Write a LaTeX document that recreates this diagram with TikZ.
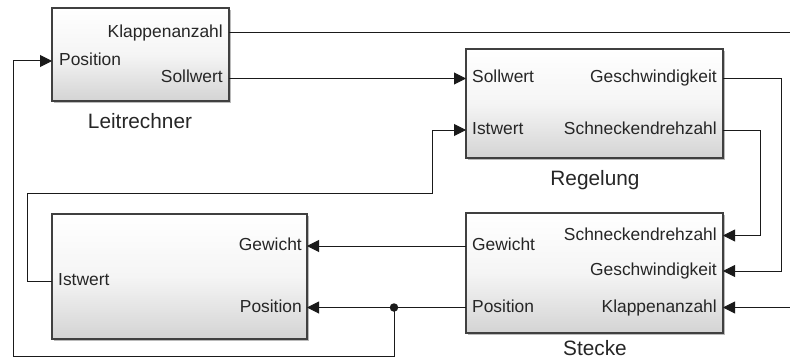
\documentclass[tikz,border=0pt]{standalone}
\usepackage{fontspec}
\setmainfont{Liberation Sans}
\usetikzlibrary{arrows.meta,shadows}
\definecolor{wire}{HTML}{1A1A1A}
\definecolor{frame}{HTML}{404040}
\tikzset{
  block/.style={draw=frame, line width=1.4pt, top color=white, bottom color=black!17,
    middle color=black!4,
    inner sep=0pt, outer sep=0pt, anchor=center,
    drop shadow={shadow xshift=2pt, shadow yshift=-2pt, fill=black!45, opacity=0.6}},
  port/.style={font=\fontsize{17.4}{20}\selectfont, inner sep=0pt, text=black!85,
    text height=12.5pt, text depth=3.5pt},
  title/.style={font=\fontsize{20.8}{24}\selectfont, inner sep=0pt, text=black!85},
  wireline/.style={draw=wire, line width=1pt},
  sig/.style={wireline, -{Triangle[length=12pt,width=12pt]}},
  junction/.style={circle, fill=wire, inner sep=0pt, minimum size=8.5pt}
}
\begin{document}
\begin{tikzpicture}[x=1pt,y=-1pt]
\useasboundingbox (0,0) rectangle (790,361);

% blocks
\node[block, minimum width=177pt, minimum height=93pt] (lr) at (140.5,54.5) {};
\node[block, minimum width=257pt, minimum height=109pt] (reg) at (594.5,103.5) {};
\node[block, minimum width=257pt, minimum height=120pt] (st) at (594.5,273) {};
\node[block, minimum width=255pt, minimum height=125pt] (mon) at (179.5,276.5) {};

% block titles
\node[title] (lrt) at (140,121) {Leitrechner};
\node[title] (regt) at (595,180) {Regelung};
\node[title] (stt) at (595,348) {Stecke};

% ports of Leitrechner
\node[port, anchor=west] (lrp) at (59,61) {Position};
\node[port, anchor=east] (lrk) at (223,33) {Klappenanzahl};
\node[port, anchor=east] (lrs) at (223,78.5) {Sollwert};

% ports of Regelung
\node[port, anchor=west] (regs) at (472,78.5) {Sollwert};
\node[port, anchor=west] (regi) at (472,130) {Istwert};
\node[port, anchor=east] (regg) at (717,78.5) {Geschwindigkeit};
\node[port, anchor=east] (regn) at (717,130) {Schneckendrehzahl};

% ports of Stecke
\node[port, anchor=west] (stw) at (472,246) {Gewicht};
\node[port, anchor=west] (stp) at (472,307.5) {Position};
\node[port, anchor=east] (stn) at (717,235.5) {Schneckendrehzahl};
\node[port, anchor=east] (stg) at (717,271) {Geschwindigkeit};
\node[port, anchor=east] (stk) at (717,307.5) {Klappenanzahl};

% ports of the lower left block
\node[port, anchor=west] (mi) at (58,281) {Istwert};
\node[port, anchor=east] (mw) at (302,246) {Gewicht};
\node[port, anchor=east] (mp) at (302,307.5) {Position};

% routing points
\coordinate (kout) at (790,33);
\coordinate (kin) at (790,307.5);
\coordinate (gx) at (781,0);
\coordinate (nx) at (760,0);
\coordinate (ix) at (27,0);
\coordinate (iy) at (0,193);
\coordinate (jx) at (432,0);
\coordinate (fx) at (13,0);
\coordinate (fy) at (0,356);
\node[junction] (dot) at (394,307.5) {};

% connectors
\draw[wireline] (lr.east |- lrk) -- (kout);
\draw[sig] (lr.east |- lrs) -- (reg.west |- regs);
\draw[sig] (reg.east |- regg) -- (gx |- regg) -- (gx |- stg) -- (st.east |- stg);
\draw[sig] (reg.east |- regn) -- (nx |- regn) -- (nx |- stn) -- (st.east |- stn);
\draw[sig] (kin) -- (st.east |- stk);
\draw[sig] (st.west |- stw) -- (mon.east |- stw);
\draw[sig] (st.west |- stp) -- (mon.east |- stp);
\draw[sig] (dot.center) -- (dot.center |- fy) -- (fx |- fy) -- (fx |- lrp) -- (lr.west |- lrp);
\draw[sig] (mon.west |- mi) -- (ix |- mi) -- (ix |- iy) -- (jx |- iy) -- (jx |- regi) -- (reg.west |- regi);
\end{tikzpicture}
\end{document}
